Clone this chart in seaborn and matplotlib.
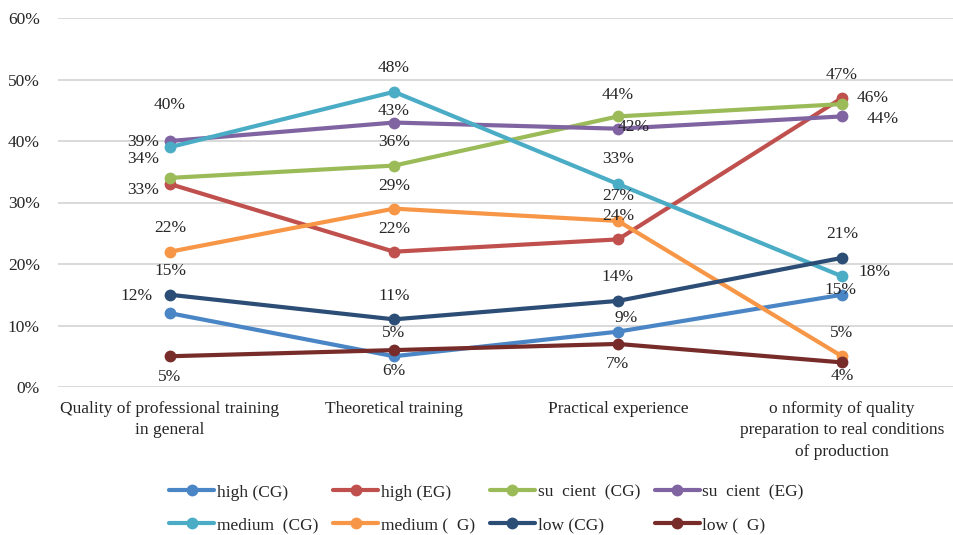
import numpy as np
import pandas as pd
import matplotlib
matplotlib.use("Agg")
import matplotlib.pyplot as plt
import seaborn as sns

sns.set_theme(style="white")
plt.rcParams["font.family"] = ["Liberation Serif", "DejaVu Serif"]

categories = [
    "Quality of professional training\nin general",
    "Theoretical training",
    "Practical experience",
    "o nformity of quality\npreparation to real conditions\nof production",
]

series_names = [
    "high (CG)", "high (EG)", "su  cient  (CG)", "su  cient  (EG)",
    "medium  (CG)", "medium (  G)", "low (CG)", "low (  G)",
]

high_cg = [12, 5, 9, 15]
high_eg = [33, 22, 24, 47]
sufficient_cg = [34, 36, 44, 46]
sufficient_eg = [40, 43, 42, 44]
medium_cg = [39, 48, 33, 18]
medium_eg = [22, 29, 27, 5]
low_cg = [15, 11, 14, 21]
low_eg = [5, 6, 7, 4]

values = [high_cg, high_eg, sufficient_cg, sufficient_eg,
          medium_cg, medium_eg, low_cg, low_eg]

colors = ["#4A86C5", "#C0504D", "#9BBB59", "#8064A2",
          "#4BACC6", "#F79646", "#2C4D75", "#772C2A"]

FS = 12.5

# label offsets in pixels (dx, dy) from each point
label_offsets = [
    [(-33, 17), (0, 23), (8, 14), (-2, 5)],
    [(-27, -6), (0, 23), (0, 23), (0, 23)],
    [(-27, 19), (0, 24), (0, 21), (31, 6)],
    [(0, 36), (0, 12), (16, 2), (41, -3)],
    [(-27, 5), (0, 24), (0, 25), (32, 4)],
    [(0, 24), (0, 23), (0, 25), (0, 23)],
    [(0, 24), (0, 23), (0, 24), (0, 24)],
    [(0, -21), (0, -21), (0, -20), (0, -14)],
]

frames = []
for name, vals in zip(series_names, values):
    frames.append(pd.DataFrame({"x": np.arange(len(categories)),
                                "value": vals, "series": name}))
df = pd.concat(frames, ignore_index=True)

fig = plt.figure(figsize=(9.54, 5.35), dpi=100)
ax = fig.add_axes([58 / 954, (535 - 387) / 535, 896 / 954, 369 / 535])

for i, name in enumerate(series_names):
    sub = df[df["series"] == name]
    sns.lineplot(data=sub, x="x", y="value", ax=ax, color=colors[i],
                 linewidth=3, marker="o", markersize=8.5,
                 markeredgewidth=0, label=name, zorder=3 + i)

for i, vals in enumerate(values):
    for j, v in enumerate(vals):
        dx, dy = label_offsets[i][j]
        ax.annotate(f"{v}%", (j, v), xytext=(dx, dy),
                    textcoords="offset pixels", ha="center", va="center",
                    fontsize=FS, color="#262626", zorder=20)

ax.set_xlim(-0.5, 3.5)
ax.set_ylim(0, 60)
ax.set_yticks(range(0, 61, 10))
ax.set_yticklabels([f"{t}%" for t in range(0, 61, 10)], fontsize=FS,
                   color="#262626")
ax.set_xticks(range(len(categories)))
ax.set_xticklabels(categories, fontsize=FS, color="#262626",
                   linespacing=1.45, va="top")
ax.tick_params(axis="y", length=0, pad=13)
ax.tick_params(axis="x", length=0, pad=10)
ax.set_xlabel("")
ax.set_ylabel("")
ax.grid(axis="y", color="#D9D9D9", linewidth=1.4)
ax.grid(axis="x", visible=False)
ax.set_axisbelow(True)
for s in ax.spines.values():
    s.set_visible(False)

ax.legend_.remove()
handles, labels = ax.get_legend_handles_labels()
# legend fills column by column, so interleave to read across rows
order = [0, 4, 1, 5, 2, 6, 3, 7]
fig.legend([handles[k] for k in order], [labels[k] for k in order],
           loc="center", bbox_to_anchor=(0.51, 0.049),
           ncol=4, frameon=False, fontsize=FS, handlelength=2.6,
           handletextpad=0.15, columnspacing=0.85, labelspacing=0.95)

fig.savefig("out.png", dpi=100, facecolor="white")
